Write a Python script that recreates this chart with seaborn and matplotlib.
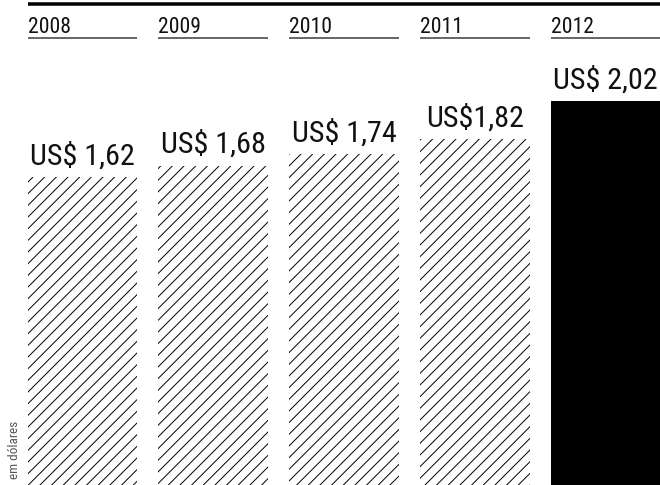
import os
import matplotlib
matplotlib.use("Agg")
import matplotlib.pyplot as plt
import matplotlib.transforms as mtransforms
from matplotlib import font_manager
from matplotlib.ft2font import FT2Font
import pandas as pd
import seaborn as sns

# Average price per year, in US dollars
years = ["2008", "2009", "2010", "2011", "2012"]
values = [1.62, 1.68, 1.74, 1.82, 2.02]
value_labels = ["US$ 1,62", "US$ 1,68", "US$ 1,74", "US$1,82", "US$ 2,02"]
fills = ["white", "white", "white", "white", "black"]
hatches = ["//", "//", "//", "//", ""]
unit_note = "em dólares"

sns.set_theme(style="white")
plt.rcParams["hatch.linewidth"] = 1.0
plt.rcParams["hatch.color"] = "black"

DPI = 70
W, H = 660, 485

# pick a narrow sans face, best first
preferred = [
    "robotocondensed-regular", "roboto_condensed-regular",
    "liberationsansnarrow-regular", "notosans-condensed.",
    "notosans-extracondensed.", "notosans-semicondensed.",
    "opensans-condensed", "dejavusanscondensed.",
]
files = [f.fname for f in font_manager.fontManager.ttflist]
files += font_manager.findSystemFonts()
chosen = None
for key in preferred:
    for path in files:
        if os.path.basename(path).lower().startswith(key):
            chosen = path
            break
    if chosen:
        break

if chosen:
    font_manager.fontManager.addfont(chosen)
    ft = FT2Font(chosen)
    os2 = ft.get_sfnt_table("OS/2") or {}
    cap = os2.get("sCapHeight", 0) or int(0.715 * ft.units_per_EM)
    cap_ratio = cap / ft.units_per_EM

    def fp(cap_px):
        return font_manager.FontProperties(fname=chosen, size=cap_px / cap_ratio * 72 / DPI)
else:
    def fp(cap_px):
        return font_manager.FontProperties(family="Roboto", size=cap_px / 0.711 * 72 / DPI * 0.86)

fig = plt.figure(figsize=(W / DPI, H / DPI), dpi=DPI)
fig.patch.set_facecolor("white")
ax = fig.add_axes([0, 0, 1, 1])

df = pd.DataFrame({"ano": years, "valor": values})
bar_width = 0.84
sns.barplot(
    data=df, x="ano", y="valor", hue="ano", palette=fills,
    width=bar_width, saturation=1, edgecolor="black", linewidth=0,
    legend=False, ax=ax,
)
for container, hatch in zip(ax.containers, hatches):
    for bar in container:
        bar.set_hatch(hatch)

x_right = 4.417
ax.set_xlim(-0.631, x_right)
ax.set_ylim(0, 2.553)
ax.axis("off")


def px(p):
    return p * 72 / DPI


trans = mtransforms.blended_transform_factory(ax.transData, ax.transAxes)

# heavy rule across the top
ax.plot([0 - bar_width / 2, x_right], [1 - 4.2 / H] * 2, transform=trans,
        color="black", lw=px(3.5), solid_capstyle="butt", clip_on=False)

# year headings with underline
for i, yr in enumerate(years):
    left, right = i - bar_width / 2, i + bar_width / 2
    ax.text(left, 1 - 33 / H, yr, transform=trans, ha="left", va="baseline",
            fontproperties=fp(15.5), color="#111111")
    ax.plot([left, right], [1 - 37.5 / H] * 2, transform=trans,
            color="#444444", lw=px(1.6), solid_capstyle="butt", clip_on=False)

# value labels above bars
for i, (v, lbl) in enumerate(zip(values, value_labels)):
    ax.annotate(lbl, xy=(i, v), xytext=(0, px(13)), textcoords="offset points",
                ha="center", va="baseline", fontproperties=fp(21.5), color="#111111")

fig.text(8 / W, 1 - 421 / H, unit_note, rotation=90, ha="left", va="top",
         fontproperties=fp(9.5), color="#555555")

fig.savefig("out.png", dpi=DPI, facecolor="white")
